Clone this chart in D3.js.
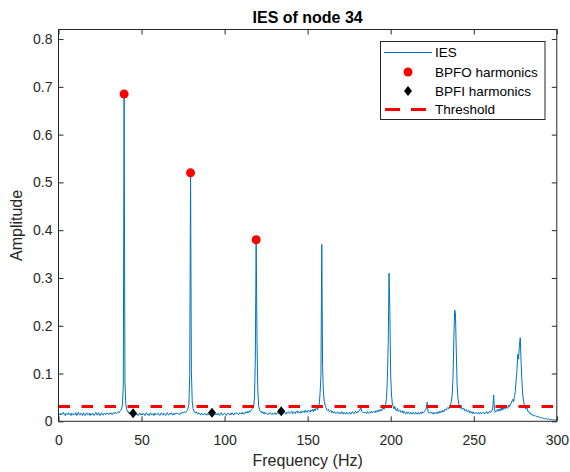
<!DOCTYPE html>
<html><head><meta charset="utf-8">
<script src="https://cdn.jsdelivr.net/npm/d3@7"></script>
<style>
body{margin:0;background:#fff;}
svg{display:block;font-family:"Liberation Sans",Arial,sans-serif;}
</style></head>
<body><svg id="c" width="570" height="472"></svg>
<script>
// ---- data ----
const freqStart = 0, freqStep = 0.5; // frequency grid of the IES (Hz)
const iesAmp = [
.018,.015,.013,.017,.014,.016,.019,.014,.012,.017,.015,.013,.018,.015,.016,.012,.017,.014,.013,.016,
.014,.018,.012,.015,.019,.014,.013,.017,.015,.012,.018,.014,.012,.016,.018,.013,.015,.017,.012,.016,
.013,.017,.015,.012,.016,.019,.014,.013,.018,.015,.012,.016,.018,.014,.013,.017,.015,.014,.018,.016,
.014,.017,.015,.018,.015,.014,.018,.016,.019,.017,.016,.019,.020,.018,.021,.023,.026,.034,.072,.685,
.082,.036,.026,.020,.021,.016,.019,.015,.014,.017,.015,.013,.016,.017,.013,.015,.012,.016,.017,.013,
.016,.013,.017,.015,.012,.016,.018,.013,.015,.012,.016,.018,.013,.015,.016,.012,.017,.015,.013,.016,
.017,.014,.012,.016,.018,.014,.013,.017,.015,.012,.016,.018,.014,.013,.017,.015,.018,.014,.013,.017,
.014,.017,.015,.018,.016,.015,.014,.018,.016,.019,.017,.019,.020,.018,.021,.023,.027,.036,.095,.520,
.105,.042,.027,.021,.021,.017,.020,.016,.015,.018,.016,.013,.017,.015,.013,.016,.017,.014,.013,.016,
.013,.016,.017,.013,.015,.012,.016,.018,.013,.015,.016,.013,.017,.014,.012,.016,.018,.014,.013,.016,
.017,.014,.012,.016,.017,.015,.013,.017,.014,.018,.015,.013,.017,.015,.018,.017,.015,.014,.018,.016,
.018,.015,.019,.016,.015,.019,.020,.017,.021,.018,.022,.020,.023,.025,.027,.032,.050,.130,.380,.170,
.065,.032,.025,.020,.021,.017,.020,.016,.019,.015,.018,.016,.014,.017,.015,.018,.016,.014,.017,.015,
.016,.018,.014,.017,.019,.015,.018,.016,.019,.017,.015,.019,.021,.016,.015,.019,.017,.020,.018,.016,
.019,.021,.016,.020,.018,.016,.020,.022,.017,.021,.019,.017,.021,.018,.022,.020,.018,.023,.019,.022,
.019,.023,.021,.019,.024,.021,.025,.020,.026,.022,.027,.029,.024,.031,.036,.060,.095,.370,.115,.060,
.042,.034,.029,.024,.023,.025,.020,.021,.023,.018,.021,.017,.020,.019,.016,.018,.020,.017,.016,.019,
.016,.020,.017,.015,.019,.016,.015,.019,.017,.015,.018,.019,.015,.017,.020,.017,.016,.020,.021,.017,
.020,.019,.023,.024,.031,.021,.020,.018,.019,.018,.019,.016,.020,.017,.018,.020,.017,.021,.018,.019,
.021,.018,.022,.019,.023,.020,.024,.021,.025,.022,.026,.028,.025,.031,.036,.050,.090,.160,.310,.230,
.095,.055,.036,.031,.026,.031,.024,.022,.027,.021,.022,.024,.019,.020,.022,.017,.021,.018,.016,.019,
.016,.020,.017,.015,.019,.016,.015,.019,.017,.015,.019,.016,.015,.019,.016,.015,.019,.016,.020,.017,
.019,.021,.024,.028,.040,.019,.017,.018,.020,.017,.018,.015,.019,.016,.017,.019,.016,.020,.017,.021,
.018,.022,.019,.023,.020,.024,.026,.023,.027,.029,.026,.031,.034,.042,.055,.090,.170,.233,.225,.145,
.075,.048,.036,.031,.027,.033,.025,.026,.028,.022,.023,.025,.020,.021,.023,.018,.021,.017,.020,.016,
.019,.016,.017,.019,.016,.017,.018,.015,.019,.016,.017,.018,.019,.015,.018,.019,.020,.016,.019,.021,
.018,.021,.022,.030,.055,.024,.019,.022,.021,.025,.021,.026,.022,.028,.023,.029,.025,.031,.026,.033,
.029,.027,.034,.030,.036,.037,.042,.046,.041,.052,.062,.085,.105,.140,.130,.160,.175,.125,.085,.055,
.042,.033,.027,.026,.031,.021,.021,.017,.018,.014,.015,.012,.013,.011,.012,.010,.011,.009,.010,.008,
.008,.007,.008,.006,.007,.005,.006,.005,.005,.004,.005,.004,.004,.003,.004,.003,.003,.003,.003,.003,
.003];
const bpfoFreq = [39.5, 79.5, 119];
const bpfoAmp  = [0.685, 0.52, 0.38];
const bpfiFreq = [44.9, 92.4, 134.1];
const bpfiAmp  = [0.017, 0.018, 0.021];
const threshold = 0.031;
const xTicks = [0, 50, 100, 150, 200, 250, 300];
const xTickLabels = ["0","50","100","150","200","250","300"];
const yTicks = [0, 0.1, 0.2, 0.3, 0.4, 0.5, 0.6, 0.7, 0.8];
const yTickLabels = ["0","0.1","0.2","0.3","0.4","0.5","0.6","0.7","0.8"];
const legendLabels = ["IES", "BPFO harmonics", "BPFI harmonics", "Threshold"];
const titleText = "IES of node 34";
const xLabelText = "Frequency (Hz)";
const yLabelText = "Amplitude";

// ---- layout ----
const L = 58.5, R = 556.8, T = 29.5, B = 421.3;
const axisCol = "#262626", lineCol = "#0072BD";
const svg = d3.select("#c");
const x = d3.scaleLinear().domain([0, 300]).range([L, R]);
const y = d3.scaleLinear().domain([0, 0.82]).range([B, T]);

const series = iesAmp.map((a, i) => ({f: freqStart + i * freqStep, a}));

svg.append("defs").append("clipPath").attr("id", "clip")
  .append("rect").attr("x", L).attr("y", T).attr("width", R - L).attr("height", B - T);

const plot = svg.append("g").attr("clip-path", "url(#clip)");
plot.append("path").datum(series)
  .attr("fill", "none").attr("stroke", lineCol).attr("stroke-width", 1)
  .attr("stroke-linejoin", "round")
  .attr("d", d3.line().x(d => x(d.f)).y(d => y(d.a)));

plot.selectAll("circle.bpfo").data(bpfoFreq).join("circle")
  .attr("cx", d => x(d)).attr("cy", (d, i) => y(bpfoAmp[i])).attr("r", 4.5).attr("fill", "#ff0000");

const diamond = (cx, cy) => `M${cx},${cy-5}L${cx+4},${cy}L${cx},${cy+5}L${cx-4},${cy}Z`;
plot.selectAll("path.bpfi").data(bpfiFreq).join("path")
  .attr("d", (d, i) => diamond(x(d), y(bpfiAmp[i]))).attr("fill", "#000");

plot.append("line").attr("x1", x(0)).attr("x2", x(300)).attr("y1", y(threshold)).attr("y2", y(threshold))
  .attr("stroke", "#ff0000").attr("stroke-width", 3).attr("stroke-dasharray", "11.5,11.5");

// ---- axes ----
function styleAxis(g) {
  g.select(".domain").remove();
  g.selectAll(".tick line").attr("stroke", axisCol).attr("stroke-width", 1);
  g.selectAll(".tick text").attr("fill", axisCol).attr("font-size", 14)
    .attr("font-family", "Liberation Sans, Arial, sans-serif");
}
const gx = svg.append("g").attr("transform", `translate(0,${B})`)
  .call(d3.axisBottom(x).tickValues(xTicks).tickFormat((d, i) => xTickLabels[i]).tickSizeInner(-5).tickSizeOuter(0).tickPadding(14));
styleAxis(gx);
const gxt = svg.append("g").attr("transform", `translate(0,${T})`)
  .call(d3.axisTop(x).tickValues(xTicks).tickFormat("").tickSizeInner(-5).tickSizeOuter(0));
styleAxis(gxt);
const gy = svg.append("g").attr("transform", `translate(${L},0)`)
  .call(d3.axisLeft(y).tickValues(yTicks).tickFormat((d, i) => yTickLabels[i]).tickSizeInner(-5).tickSizeOuter(0).tickPadding(6));
styleAxis(gy);
const gyr = svg.append("g").attr("transform", `translate(${R},0)`)
  .call(d3.axisRight(y).tickValues(yTicks).tickFormat("").tickSizeInner(-5).tickSizeOuter(0));
styleAxis(gyr);

svg.append("rect").attr("x", L).attr("y", T).attr("width", R - L).attr("height", B - T)
  .attr("fill", "none").attr("stroke", axisCol).attr("stroke-width", 1);

// ---- labels ----
svg.append("text").attr("x", (L + R) / 2).attr("y", 22.5).attr("text-anchor", "middle")
  .attr("font-size", 16).attr("font-weight", "bold").attr("fill", "#000").text(titleText);
svg.append("text").attr("x", (L + R) / 2).attr("y", 466).attr("text-anchor", "middle")
  .attr("font-size", 16).attr("fill", axisCol).text(xLabelText);
svg.append("text").attr("transform", `translate(22,${(T + B) / 2}) rotate(-90)`).attr("text-anchor", "middle")
  .attr("font-size", 16).attr("fill", axisCol).text(yLabelText);

// ---- legend ----
const lg = svg.append("g");
lg.append("rect").attr("x", 380.5).attr("y", 41.5).attr("width", 164.5).attr("height", 78)
  .attr("fill", "#fff").attr("stroke", axisCol).attr("stroke-width", 1);
const rowY = [52.5, 72, 91, 109.5];
lg.selectAll("text").data(legendLabels).join("text")
  .attr("x", 435).attr("y", (d, i) => rowY[i]).attr("dy", "0.35em")
  .attr("font-size", 13.5).attr("fill", "#000").text(d => d);
lg.append("line").attr("x1", 384).attr("x2", 432).attr("y1", rowY[0]).attr("y2", rowY[0])
  .attr("stroke", lineCol).attr("stroke-width", 1);
lg.append("circle").attr("cx", 408).attr("cy", rowY[1]).attr("r", 4.5).attr("fill", "#ff0000");
lg.append("path").attr("d", diamond(408, rowY[2])).attr("fill", "#000");
lg.append("line").attr("x1", 385).attr("x2", 431).attr("y1", rowY[3]).attr("y2", rowY[3])
  .attr("stroke", "#ff0000").attr("stroke-width", 3).attr("stroke-dasharray", "15,11");
</script></body></html>
